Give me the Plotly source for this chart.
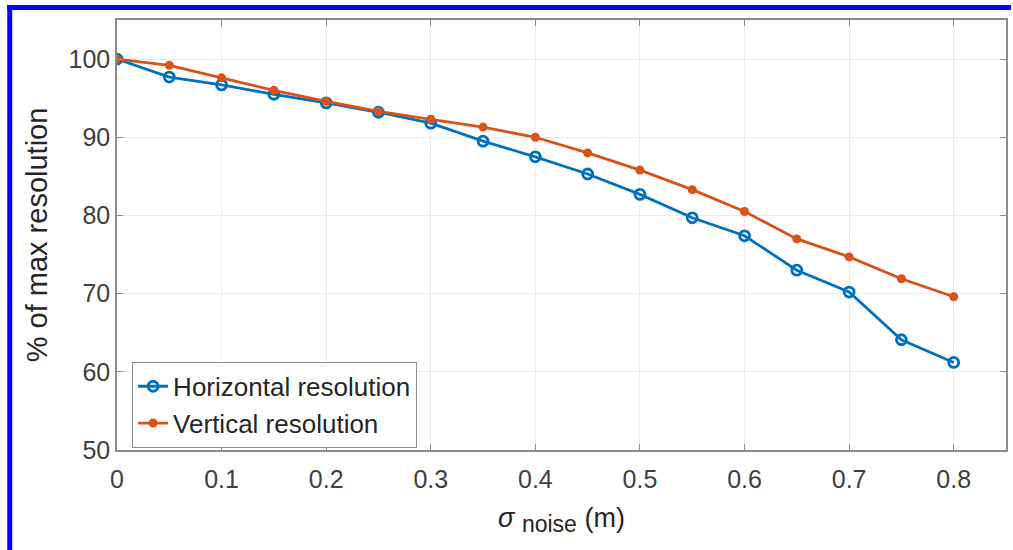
import plotly.graph_objects as go

sigma_noise = [0, 0.05, 0.1, 0.15, 0.2, 0.25, 0.3, 0.35, 0.4, 0.45, 0.5, 0.55, 0.6, 0.65, 0.7, 0.75, 0.8]
horizontal = [100, 97.7, 96.7, 95.5, 94.4, 93.2, 91.8, 89.5, 87.5, 85.3, 82.7, 79.7, 77.4, 73.0, 70.2, 64.1, 61.2]
vertical = [100, 99.2, 97.6, 96.0, 94.6, 93.3, 92.3, 91.3, 90.0, 88.0, 85.8, 83.3, 80.5, 77.0, 74.7, 71.9, 69.6]
x_ticks = [0, 0.1, 0.2, 0.3, 0.4, 0.5, 0.6, 0.7, 0.8]
y_ticks = [50, 60, 70, 80, 90, 100]

BLUE = "#0072BD"
ORANGE = "#D95319"
FONT = "Liberation Sans, Arial, sans-serif"

fig = go.Figure()
fig.add_trace(go.Scatter(
    x=sigma_noise, y=horizontal, mode="lines+markers", name="Horizontal resolution",
    line=dict(color=BLUE, width=2.8),
    marker=dict(symbol="circle-open", size=10, color=BLUE, line=dict(width=2.8)),
))
fig.add_trace(go.Scatter(
    x=sigma_noise, y=vertical, mode="lines+markers", name="Vertical resolution",
    line=dict(color=ORANGE, width=2.8),
    marker=dict(symbol="circle", size=9, color=ORANGE),
))

axis_common = dict(
    showgrid=True, gridcolor="#EBEBEB", gridwidth=1,
    showline=True, linecolor="#8C8C8C", linewidth=1.5, mirror="ticks",
    ticks="inside", ticklen=6, tickcolor="#8C8C8C",
    tickfont=dict(family=FONT, size=25, color="#404040"),
    zeroline=False,
)

fig.update_layout(
    width=1013, height=550,
    margin=dict(l=117, r=5, t=20, b=100),
    paper_bgcolor="white", plot_bgcolor="white",
    font=dict(family=FONT, color="#262626"),
    xaxis=dict(range=[0, 0.85], tickvals=x_ticks, ticktext=[str(v) for v in x_ticks],
               ticklabelstandoff=6,
               title=dict(text="<i>σ</i> <sub><span style='font-size:23px'>noise</span></sub> (m)",
                          font=dict(family=FONT, size=27, color="#262626"), standoff=16),
               **axis_common),
    yaxis=dict(range=[50, 105], tickvals=y_ticks, ticktext=[str(v) for v in y_ticks],
               title=dict(text="% of max resolution", font=dict(family=FONT, size=29, color="#262626"), standoff=12),
               **axis_common),
    legend=dict(
        x=0.017, y=0.205, xanchor="left", yanchor="top",
        bgcolor="white", bordercolor="#8C8C8C", borderwidth=1,
        font=dict(family=FONT, size=26, color="#262626"),
        itemwidth=30, tracegroupgap=0,
    ),
    showlegend=True,
)

# Blue frame around the figure (top and left edges)
fig.add_shape(type="rect", xref="paper", yref="paper",
              x0=(7 - 117) / 891, x1=(1013 - 117) / 891,
              y0=(450 - 5) / 430, y1=(450 - 10) / 430,
              fillcolor="#0000FF", line=dict(width=0), layer="above")
fig.add_shape(type="rect", xref="paper", yref="paper",
              x0=(7 - 117) / 891, x1=(12 - 117) / 891,
              y0=(450 - 5) / 430, y1=(450 - 550) / 430,
              fillcolor="#0000FF", line=dict(width=0), layer="above")

fig.write_html("out.html")
